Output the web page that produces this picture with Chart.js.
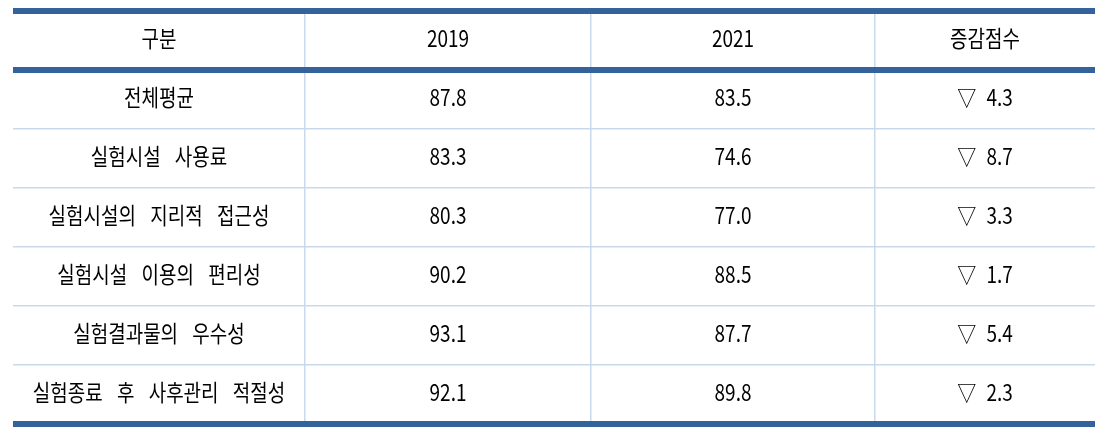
<!DOCTYPE html>
<html>
<head>
<meta charset="utf-8">
<script src="https://cdn.jsdelivr.net/npm/chart.js"></script>
<style>
  body { margin: 0; background: #fff; }
</style>
</head>
<body>
<canvas id="scoreTable" width="1110" height="442"></canvas>
<script>
const headers = ['구분', '2019', '2021', '증감점수'];
const categories = [
    '전체평균',
    '실험시설 사용료',
    '실험시설의 지리적 접근성',
    '실험시설 이용의 편리성',
    '실험결과물의 우수성',
    '실험종료 후 사후관리 적절성'
];
const scores2019 = [87.8, 83.3, 80.3, 90.2, 93.1, 92.1];
const scores2021 = [83.5, 74.6, 77.0, 88.5, 87.7, 89.8];
const changes = [4.3, 8.7, 3.3, 1.7, 5.4, 2.3];

// layout only: relative column widths
const colWidths = [292, 286, 284, 220];
const colEdges = [0];
colWidths.forEach(w => colEdges.push(colEdges[colEdges.length - 1] + w));
const rowCount = categories.length + 1;
const wordGap = ['10px', '0px', '0px', '6px'];

const thickColor = '#33639a';
const thinColor = '#c9d9ec';
const font = '"Noto Sans CJK KR", "Noto Sans", sans-serif';

function rowCells(i) {
    if (i === 0) return headers;
    const k = i - 1;
    return [categories[k], scores2019[k].toFixed(1), scores2021[k].toFixed(1), '▽ ' + changes[k].toFixed(1)];
}

const tablePlugin = {
    id: 'tablePlugin',
    afterDraw(chart) {
        const c = chart.ctx;
        const x = chart.scales.x, y = chart.scales.y;
        const left = chart.chartArea.left, right = chart.chartArea.right;
        // thick rules: top, under header, bottom
        c.save();
        c.fillStyle = thickColor;
        [0, 1, rowCount].forEach(v => {
            const py = y.getPixelForValue(v);
            c.fillRect(left, Math.round(py) - 3, right - left, 6);
        });
        c.restore();
        // text
        for (let i = 0; i < rowCount; i++) {
            const cells = rowCells(i);
            const py = y.getPixelForValue(i + 0.5) - 2;
            cells.forEach((t, j) => {
                const px = x.getPixelForValue((colEdges[j] + colEdges[j + 1]) / 2);
                c.save();
                c.fillStyle = '#000';
                c.textAlign = 'center';
                c.textBaseline = 'middle';
                c.font = '19px ' + font;
                c.wordSpacing = i === 0 ? '0px' : wordGap[j];
                c.translate(px, py);
                c.scale(1, 1.2);
                c.fillText(t, 0, 0);
                c.restore();
            });
        }
    }
};

new Chart(document.getElementById('scoreTable').getContext('2d'), {
    type: 'scatter',
    data: { datasets: [] },
    plugins: [tablePlugin],
    options: {
        responsive: false,
        animation: false,
        events: [],
        layout: { padding: { left: 13, right: 15, top: 11, bottom: 18 } },
        plugins: { legend: { display: false }, tooltip: { enabled: false } },
        scales: {
            x: {
                type: 'linear',
                min: 0,
                max: colEdges[colEdges.length - 1],
                afterBuildTicks: s => { s.ticks = colEdges.slice(1, -1).map(v => ({ value: v })); },
                ticks: { display: false },
                border: { display: false },
                grid: { color: thinColor, lineWidth: 1.5, drawTicks: false }
            },
            y: {
                type: 'linear',
                reverse: true,
                min: 0,
                max: rowCount,
                afterBuildTicks: s => {
                    const t = [];
                    for (let v = 2; v < rowCount; v++) t.push({ value: v });
                    s.ticks = t;
                },
                ticks: { display: false },
                border: { display: false },
                grid: { color: thinColor, lineWidth: 1.5, drawTicks: false }
            }
        }
    }
});
</script>
</body>
</html>
